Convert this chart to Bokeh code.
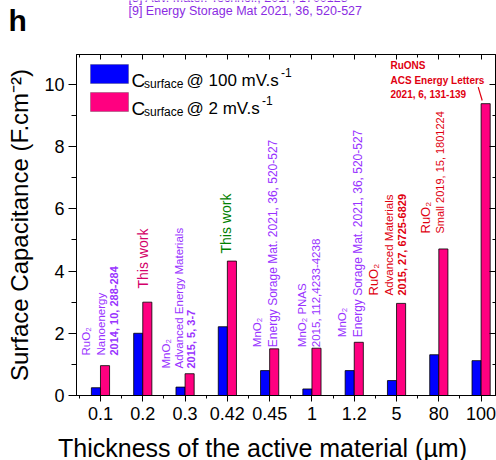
import numpy as np
from bokeh.plotting import figure
from bokeh.layouts import column
from bokeh.models import (ColumnDataSource, Range1d, FixedTicker, LinearAxis,
                          Label, BoxAnnotation)
from bokeh.core.properties import value
from bokeh.transform import dodge
from bokeh.embed import file_html
from bokeh.resources import INLINE

# ---------------- data ----------------
thickness_labels = ["0.1", "0.2", "0.3", "0.42", "0.45", "1", "1.2", "5", "80", "100"]
c_surface_100 = [0.25, 2.0, 0.27, 2.21, 0.80, 0.21, 0.80, 0.48, 1.31, 1.12]
c_surface_2 = [0.96, 3.0, 0.70, 4.32, 1.50, 1.52, 1.71, 2.96, 4.71, 9.38]
y_major_ticks = [0, 2, 4, 6, 8, 10]
y_minor_ticks = [1, 3, 5, 7, 9]

# ---------------- layout helpers ----------------
W, H = 496, 460
TOPH = 40                                   # header strip height
BOTH = 30                                   # footer strip height (x-axis title)
FL, FR, FT, FB = 76, 495, 54, 395          # frame edges in page pixels
XR = (0.433, 10.34)
YR = (0.0, 10.96)
BW = 0.215

def px2x(px):
    return XR[0] + (px - FL) / (FR - FL) * (XR[1] - XR[0])

def py2y(py):
    return YR[0] + (FB - py) / (FB - FT) * (YR[1] - YR[0])

FONT = "Liberation Sans"
PURPLE = "#9933FF"
RED = "#E00010"
PINK_TXT = "#D4006A"
GREEN = "#008000"
BLUE = "#0000FF"
PINK = "#FF0080"

def strip(height):
    f = figure(width=W, height=height, x_range=Range1d(0, W), y_range=Range1d(0, height),
               title=None, output_backend="svg", toolbar_location=None,
               x_axis_location=None, y_axis_location=None,
               min_border_left=0, min_border_right=0, min_border_top=0, min_border_bottom=0)
    f.frame_align = False
    f.xgrid.visible = False
    f.ygrid.visible = False
    f.outline_line_color = None
    f.background_fill_color = "white"
    f.border_fill_color = "white"
    return f

def mid(baseline_px, size):
    # vertical centre of a text line whose baseline sits at baseline_px
    return baseline_px - 0.36 * size

# ---------------- header strip (panel letter + reference lines) ----------------
head = strip(TOPH)
head.text(x=[8], y=[TOPH - mid(31, 30)], text=["h"], text_font=value(FONT),
          text_font_size="30px", text_font_style="bold", text_color="black",
          text_baseline="middle")
head.text(x=[128, 128], y=[TOPH - mid(15, 12.5), TOPH - mid(1.5, 12.5)],
          text=["[9] Energy Storage Mat 2021, 36, 520-527",
                "[8] Adv. Mater. Technol., 2017, 1700128"],
          text_font=value(FONT), text_font_size="12.5px", text_color="#8A2BE2",
          text_baseline="middle")

# ---------------- footer strip (x-axis title) ----------------
foot = strip(BOTH)
foot.text(x=[262], y=[BOTH - mid(26, 25)], text=["Thickness of the active material (µm)"],
          text_font=value(FONT), text_font_size="25px", text_color="black",
          text_align="center", text_baseline="middle")

# ---------------- main plot ----------------
xpos = list(range(1, len(thickness_labels) + 1))
source = ColumnDataSource(dict(x=xpos, c100=c_surface_100, c2=c_surface_2))

MAIN_H = H - TOPH - BOTH
p = figure(width=W, height=MAIN_H, x_range=Range1d(*XR), y_range=Range1d(*YR),
           title=None, output_backend="svg", toolbar_location=None,
           min_border_left=FL, min_border_right=W - FR,
           min_border_top=FT - TOPH, min_border_bottom=(TOPH + MAIN_H) - FB)
p.frame_align = False
p.xgrid.visible = False
p.ygrid.visible = False
p.outline_line_color = "black"
p.outline_line_width = 1
p.background_fill_color = "white"
p.border_fill_color = "white"

x_minor = [i + 0.5 for i in range(0, len(xpos) + 1)]

xa = p.xaxis[0]
xa.ticker = FixedTicker(ticks=xpos, minor_ticks=x_minor)
xa.major_label_overrides = {i: lab for i, lab in zip(xpos, thickness_labels)}
ya = p.yaxis[0]
ya.ticker = FixedTicker(ticks=y_major_ticks, minor_ticks=y_minor_ticks)
ya.axis_label = "Surface Capacitance (F.cm⁻²)"

for ax in (xa, ya):
    ax.axis_line_color = "black"
    ax.axis_line_width = 1
    ax.major_tick_line_color = "black"
    ax.minor_tick_line_color = "black"
    ax.major_tick_in = 0
    ax.minor_tick_in = 0
    ax.major_label_text_font = FONT
    ax.major_label_text_font_size = "18px"
    ax.major_label_text_color = "black"
    ax.axis_label_text_font = FONT
    ax.axis_label_text_font_style = "normal"
    ax.axis_label_text_color = "black"
ya.axis_label_text_font_size = "24px"
xa.major_tick_out = 6
xa.minor_tick_out = 3
xa.major_label_standoff = 5
ya.major_tick_out = 8
ya.minor_tick_out = 5
ya.major_label_standoff = 4
ya.axis_label_standoff = 8

# mirrored top / right axes with inward ticks
top = LinearAxis(ticker=FixedTicker(ticks=xpos, minor_ticks=x_minor),
                 major_tick_in=5, major_tick_out=0, minor_tick_in=3, minor_tick_out=0,
                 major_label_text_font_size="0px", major_label_standoff=0,
                 major_label_overrides={i: "" for i in xpos})
right = LinearAxis(ticker=FixedTicker(ticks=y_major_ticks, minor_ticks=y_minor_ticks),
                   major_tick_in=6, major_tick_out=0, minor_tick_in=3, minor_tick_out=0,
                   major_label_text_font_size="0px", major_label_standoff=0,
                   major_label_overrides={i: "" for i in y_major_ticks})
p.add_layout(top, "above")
p.add_layout(right, "right")

# bars
p.vbar(x=dodge("x", -BW / 2), width=BW, top="c100", bottom=0, source=source,
       fill_color=BLUE, line_color="black", line_width=0.8)
p.vbar(x=dodge("x", BW / 2), width=BW, top="c2", bottom=0, source=source,
       fill_color=PINK, line_color="black", line_width=0.8)

# ---------------- legend (manual, for subscripts) ----------------
for (yt, yb, col) in [(64, 83, BLUE), (92, 111, PINK)]:
    p.add_layout(BoxAnnotation(left=px2x(90), right=px2x(128), top=py2y(yt), bottom=py2y(yb),
                               fill_color=col, fill_alpha=1, line_color="#333333", line_width=1))

def hlabel(text, px, py, color="black", size=18, bold=False, align="left", baseline="alphabetic"):
    p.add_layout(Label(x=px2x(px), y=py2y(py), text=text, text_color=color,
                       text_font=FONT, text_font_size=f"{size}px",
                       text_font_style="bold" if bold else "normal",
                       text_align=align, text_baseline=baseline))

for dy, rate, sup_x in [(0, "100", 280.5), (28, "2", 261.5)]:
    hlabel("C", 131, 79.5 + dy, size=19)
    hlabel("surface", 143.5, 83.5 + dy, size=12)
    hlabel(f"@ {rate} mV.s", 186, 79.5 + dy, size=17)
    hlabel("-1", sup_x, 72 + dy, size=12)

# ---------------- annotations ----------------
def vlabel(text, xc, yb, color=PURPLE, size=11.5, bold=False):
    p.add_layout(Label(x=px2x(xc), y=py2y(yb), text=text, angle=90, angle_units="deg",
                       text_align="left", text_baseline="middle", text_color=color,
                       text_font=FONT, text_font_size=f"{size}px",
                       text_font_style="bold" if bold else "normal"))

vlabel("RuO₂", 85, 355)
vlabel("Nanoenergy", 100.5, 355)
vlabel("2014, 10, 288-284", 113, 355, bold=True, size=11)
vlabel("This work", 142.5, 288, color=PINK_TXT, size=14)
vlabel("MnO₂", 165, 368)
vlabel("Advanced Energy Materials", 178.3, 368)
vlabel("2015, 5, 3-7", 190.7, 368, bold=True, size=11)
vlabel("This work", 225, 253, color=GREEN, size=14)
vlabel("MnO₂", 256.7, 346.7)
vlabel("Energy Sorage Mat. 2021, 36, 520-527", 272.7, 346.7, size=12)
vlabel("MnO₂ PNAS", 301.7, 346.7)
vlabel("2015, 112,4233-4238", 315, 346.7)
vlabel("MnO₂", 341.7, 336.7)
vlabel("Energy Sorage Mat. 2021, 36, 520-527", 357.7, 336.7, size=12)
vlabel("RuO₂", 373.3, 295, color=RED, size=13)
vlabel("Advanced Materials", 388.3, 295, color=RED, size=11.5)
vlabel("2015, 27, 6725-6829", 401.7, 295, color=RED, size=11, bold=True)
vlabel("RuO₂", 425, 233, color=RED, size=13)
vlabel("Small 2019, 15, 1801224", 439.3, 233, color=RED, size=11)

hlabel("RuONS", 390, 65, color=RED, size=10, bold=True, baseline="middle")
hlabel("ACS Energy Letters", 390, 79.5, color=RED, size=10, bold=True, baseline="middle")
hlabel("2021, 6, 131-139", 390, 94, color=RED, size=10, bold=True, baseline="middle")
p.segment(x0=[px2x(477.7)], y0=[py2y(86.7)], x1=[px2x(481.7)], y1=[py2y(100)],
          line_color=RED, line_width=1.2)

layout = column(head, p, foot, spacing=0)
open("out.html", "w").write(file_html(layout, INLINE))
